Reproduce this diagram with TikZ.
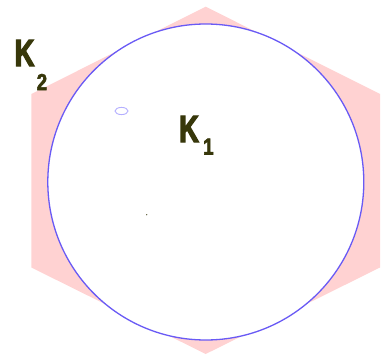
\documentclass[tikz,border=0pt]{standalone}
\usepackage{fontspec}
\setmainfont{Liberation Sans}
\newfontfamily\kbig[FakeStretch=0.72,FakeBold=3]{Liberation Sans Bold}
\newfontfamily\ksub[FakeStretch=0.82,FakeBold=2.5]{Liberation Sans Bold}
\definecolor{hexpink}{RGB}{255,210,210}
\definecolor{circblue}{RGB}{105,90,245}
\definecolor{smallblue}{RGB}{180,175,255}
\definecolor{labolive}{RGB}{55,55,10}
\begin{document}
\begin{tikzpicture}[x=1pt,y=-1pt,
  bigk/.style={inner sep=0pt,text=labolive,font=\kbig\fontsize{38}{38}\selectfont},
  subk/.style={inner sep=0pt,text=labolive,font=\ksub\fontsize{23}{23}\selectfont}]
\useasboundingbox (0,0) rectangle (391,356);
\fill[hexpink] (205.7,6.7) -- (380,94) -- (380,267.5) -- (205.7,354) -- (31.3,267.5) -- (31.3,94) -- cycle;
\draw[circblue,line width=1.3pt,fill=white] (205.8,182) circle[radius=158];
\draw[smallblue,line width=0.9pt] (121.5,111) ellipse[x radius=6.5,y radius=3.6];
\fill[labolive] (146.7,214.7) circle[radius=0.6];
\node[bigk,anchor=base west] (k2) at (14.5,66) {K};
\node[subk,anchor=base west] (k2s) at (36.5,90) {2};
\node[bigk,anchor=base west] (k1) at (179,142) {K};
\node[subk,anchor=base west] (k1s) at (203,154.5) {1};
\end{tikzpicture}
\end{document}
